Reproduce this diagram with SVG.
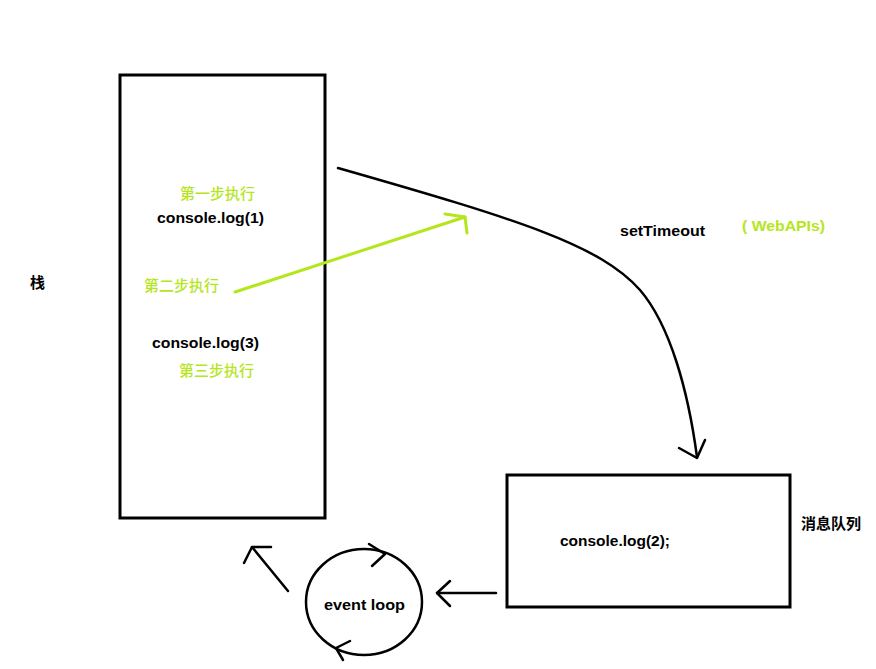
<svg xmlns="http://www.w3.org/2000/svg" width="876" height="669" viewBox="0 0 876 669">
<style>
.box{fill:none;stroke:#000;stroke-width:3}
.ln{fill:none;stroke:#000;stroke-width:2.5;stroke-linecap:round;stroke-linejoin:round}
.gln{fill:none;stroke:#b5e61d;stroke-width:3;stroke-linecap:round;stroke-linejoin:round}
.t{font-family:"Liberation Sans","Noto Sans CJK SC",sans-serif;font-weight:bold;font-size:15px;fill:#000}
.g{font-family:"Noto Sans CJK SC","Liberation Sans",sans-serif;font-weight:500;font-size:15px;fill:#b5e61d}
.gb{font-family:"Liberation Sans","Noto Sans CJK SC",sans-serif;font-weight:bold;font-size:15px;fill:#b5e61d}
.c{font-family:"Noto Sans CJK SC","Liberation Sans",sans-serif;font-weight:bold;font-size:15px;fill:#000}
</style>
<rect width="876" height="669" fill="#fff"/>
<g id="stack">
<rect class="box" x="120" y="75" width="205" height="443"/>
<text class="g" x="180" y="199">第一步执行</text>
<text class="t" x="157" y="223" textLength="107" lengthAdjust="spacingAndGlyphs">console.log(1)</text>
<text class="g" x="144" y="291">第二步执行</text>
<text class="t" x="152" y="348" textLength="107" lengthAdjust="spacingAndGlyphs">console.log(3)</text>
<text class="g" x="179" y="376">第三步执行</text>
</g>
<g id="stack-label"><text class="c" x="30" y="288">栈</text></g>
<g id="webapis">
<text class="t" x="620" y="236" textLength="85" lengthAdjust="spacingAndGlyphs">setTimeout</text>
<text class="gb" x="742" y="231" textLength="83" lengthAdjust="spacingAndGlyphs">( WebAPIs)</text>
</g>
<g id="queue">
<rect class="box" x="507" y="475" width="283" height="132"/>
<text class="t" x="560" y="546" textLength="110" lengthAdjust="spacingAndGlyphs">console.log(2);</text>
</g>
<g id="queue-label"><text class="c" x="801" y="529">消息队列</text></g>
<g id="eventloop">
<ellipse class="ln" cx="364" cy="602" rx="58" ry="53"/>
<path class="ln" d="M369,544 L385,554 L372,566"/>
<path class="ln" d="M350,641 L336,648 L343,660"/>
<text class="t" x="324" y="610" textLength="81" lengthAdjust="spacingAndGlyphs">event loop</text>
</g>
<g id="connectors">
<path class="ln" d="M338,168 C520,220 600,245 640,290 C670,325 688,390 697,457"/>
<path class="ln" d="M679,448 L697,458 L705,440"/>
<path class="gln" d="M235,292 L465,217"/>
<path class="gln" d="M445,214 L465,217 L467,233"/>
<path class="ln" d="M496,593 L437,593"/>
<path class="ln" d="M450,581 L437,593 L450,606"/>
<path class="ln" d="M288,591 L252,547"/>
<path class="ln" d="M271,547 L252,547 L244,563"/>
</g>
</svg>
